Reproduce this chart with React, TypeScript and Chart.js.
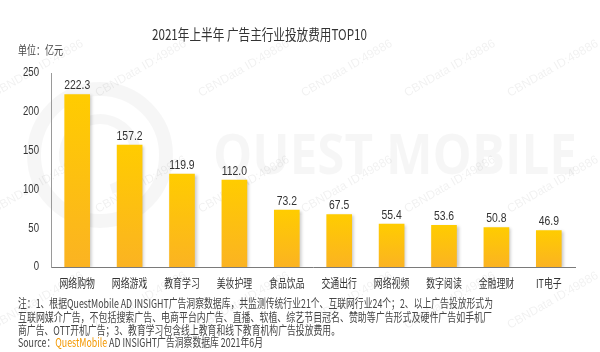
import React, { useEffect, useRef } from "react";
import { Chart, registerables } from "chart.js";

Chart.register(...registerables);

const categories = ["网络购物", "网络游戏", "教育学习", "美妆护理", "食品饮品", "交通出行", "网络视频", "数字阅读", "金融理财", "IT电子"];
const values = [222.3, 157.2, 119.9, 112.0, 73.2, 67.5, 55.4, 53.6, 50.8, 46.9];
const yTicks = [0, 50, 100, 150, 200, 250];
const titleText = "2021年上半年 广告主行业投放费用TOP10";
const unitText = "单位：亿元";
const noteLines = [
  "注：1、根据QuestMobile AD INSIGHT广告洞察数据库，共监测传统行业21个、互联网行业24个；2、以上广告投放形式为",
  "互联网媒介广告，不包括搜索广告、电商平台内广告、直播、软植、综艺节目冠名、赞助等广告形式及硬件广告如手机厂",
  "商广告、OTT开机广告；3、教育学习包含线上教育和线下教育机构广告投放费用。",
];
const sourceRuns = ["Source：", "QuestMobile", " AD INSIGHT广告洞察数据库 2021年6月"];

const CJK = '"Noto Sans CJK SC", "Noto Sans", sans-serif';
const NUM = '"Liberation Sans", Arial, sans-serif';

function drawScaled(ctx: CanvasRenderingContext2D, s: string, x: number, y: number, font: string, color: string, align: CanvasTextAlign, sx: number) {
  ctx.save();
  ctx.font = font;
  ctx.fillStyle = color;
  ctx.textAlign = align;
  ctx.textBaseline = "middle";
  ctx.translate(x, y);
  ctx.scale(sx, 1);
  ctx.fillText(s, 0, 0);
  ctx.restore();
}

function drawFit(ctx: CanvasRenderingContext2D, s: string, x: number, y: number, font: string, color: string, align: CanvasTextAlign, width: number) {
  ctx.save();
  ctx.font = font;
  const w = ctx.measureText(s).width;
  ctx.restore();
  drawScaled(ctx, s, x, y, font, color, align, width / w);
}

const decorPlugin = {
  id: "decor",
  beforeDraw(chart: any) {
    const ctx: CanvasRenderingContext2D = chart.ctx;
    ctx.save();
    ctx.fillStyle = "#ffffff";
    ctx.fillRect(0, 0, chart.width, chart.height);
    // big logo watermark
    ctx.strokeStyle = "rgba(0,0,0,0.035)";
    ctx.lineWidth = 14;
    ctx.beginPath();
    ctx.arc(100, 155, 66, 0, Math.PI * 2);
    ctx.stroke();
    ctx.lineWidth = 10;
    ctx.beginPath();
    ctx.arc(100, 155, 36, Math.PI * 0.9, Math.PI * 2.4);
    ctx.stroke();
    ctx.restore();
    drawFit(ctx, "QUEST MOBILE", 213, 158, 'bold 56px "Open Sans", sans-serif', "rgba(0,0,0,0.035)", "left", 364);
    // diagonal id watermarks
    ctx.save();
    ctx.font = '12px "Liberation Sans", Arial, sans-serif';
    ctx.fillStyle = "rgba(0,0,0,0.06)";
    for (let row = -1; row < 4; row++) {
      for (let col = -1; col < 7; col++) {
        const x = -5 + col * 103;
        const y = 97 + row * 116;
        ctx.save();
        ctx.translate(x, y);
        ctx.rotate(-Math.PI / 6);
        ctx.fillText("CBNData ID:49886", 0, 0);
        ctx.restore();
      }
    }
    ctx.restore();
  },
  beforeDatasetsDraw(chart: any) {
    const ctx = chart.ctx;
    ctx.save();
    ctx.shadowColor = "rgba(0,0,0,0.22)";
    ctx.shadowBlur = 3;
    ctx.shadowOffsetX = 2;
    ctx.shadowOffsetY = 1;
  },
  afterDatasetsDraw(chart: any) {
    const ctx: CanvasRenderingContext2D = chart.ctx;
    ctx.restore();
    const xs = chart.scales.x;
    const ys = chart.scales.y;
    values.forEach((v, i) => {
      const x = xs.getPixelForValue(i);
      const y = ys.getPixelForValue(v);
      drawScaled(ctx, v.toFixed(1), x, y - 9, `13px ${NUM}`, "#333333", "center", 0.8);
    });
  },
  afterDraw(chart: any) {
    const ctx: CanvasRenderingContext2D = chart.ctx;
    const xs = chart.scales.x;
    const ys = chart.scales.y;
    drawFit(ctx, titleText, 259.5, 34, `15px ${CJK}`, "#333333", "center", 215);
    drawFit(ctx, unitText, 18, 50, `12px ${CJK}`, "#444444", "left", 45);
    yTicks.forEach((t) => {
      drawScaled(ctx, String(t), 39, ys.getPixelForValue(t), `12px ${NUM}`, "#333333", "right", 0.8);
    });
    categories.forEach((c, i) => {
      drawScaled(ctx, c, xs.getPixelForValue(i), 283, `12px ${CJK}`, "#333333", "center", 0.74);
    });
    const lineY = [303, 317.5, 330.5];
    const widths = [475, 474, 322];
    noteLines.forEach((l, i) => drawFit(ctx, l, 18, lineY[i], `12px ${CJK}`, "#444444", "left", widths[i]));
    ctx.save();
    ctx.font = `12px ${CJK}`;
    const total = sourceRuns.reduce((a, s) => a + ctx.measureText(s).width, 0);
    const sx = 245 / total;
    let x = 18;
    const colors = ["#444444", "#F39800", "#444444"];
    sourceRuns.forEach((s, i) => {
      const w = ctx.measureText(s).width;
      drawScaled(ctx, s, x, 342, `12px ${CJK}`, colors[i], "left", sx);
      x += w * sx;
    });
    ctx.restore();
  },
};

export default function App() {
  const ref = useRef<HTMLCanvasElement | null>(null);
  useEffect(() => {
    document.body.style.margin = "0";
    const canvas = ref.current;
    if (!canvas) return;
    const chart = new Chart(canvas, {
      type: "bar",
      data: {
        labels: categories,
        datasets: [
          {
            data: values,
            barThickness: 25,
            backgroundColor: (c: any) => {
              const chart = c.chart;
              const { ctx, chartArea, scales } = chart;
              if (!chartArea || c.raw == null) return "#FFC400";
              const top = scales.y.getPixelForValue(c.raw);
              const bottom = scales.y.getPixelForValue(0);
              const g = ctx.createLinearGradient(0, top, 0, bottom);
              g.addColorStop(0, "#FFCC00");
              g.addColorStop(1, "#FBB322");
              return g;
            },
            borderWidth: 0,
          },
        ],
      },
      options: {
        responsive: false,
        maintainAspectRatio: false,
        animation: false,
        devicePixelRatio: 1,
        layout: { padding: { left: 51, right: 25, top: 73, bottom: 85 } },
        plugins: { legend: { display: false }, tooltip: { enabled: false }, title: { display: false } },
        scales: {
          x: {
            ticks: { display: false },
            grid: { display: false, drawTicks: false },
            border: { display: true, color: "#7a7a7a", width: 1 },
          },
          y: {
            min: 0,
            max: 250,
            ticks: { display: false, stepSize: 50 },
            grid: { display: false, drawTicks: false },
            border: { display: true, color: "#9a9a9a", width: 1 },
          },
        },
      },
      plugins: [decorPlugin],
    });
    return () => chart.destroy();
  }, []);
  return (
    <div style={{ width: 600, height: 352, position: "relative" }}>
      <canvas ref={ref} width={600} height={352} style={{ display: "block" }} />
    </div>
  );
}
